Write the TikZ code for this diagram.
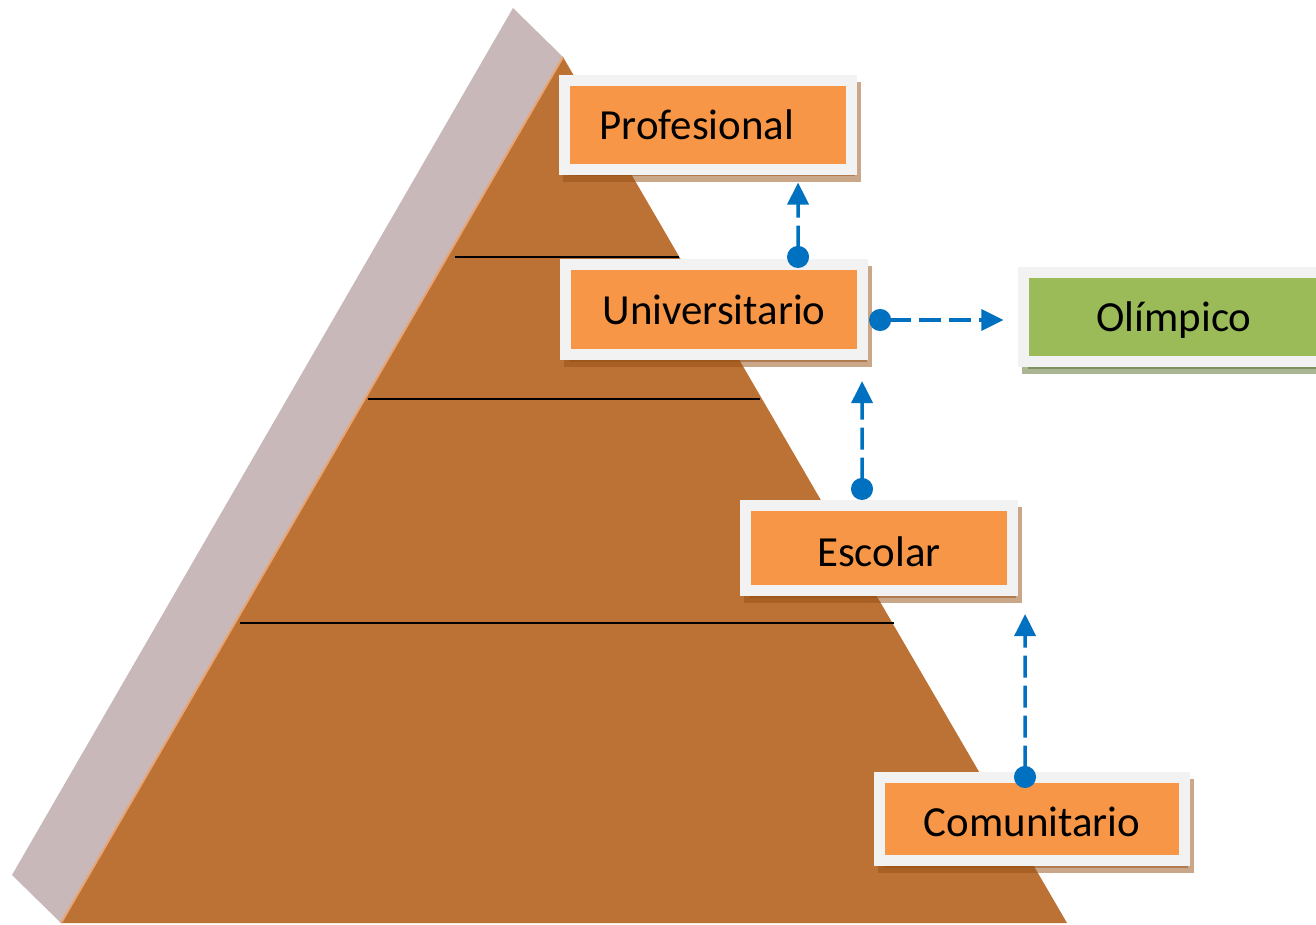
\documentclass[tikz,border=0pt]{standalone}
\usepackage{fontspec}
\setmainfont{Carlito}
\usetikzlibrary{arrows.meta,shadows}

\definecolor{frontbrown}{RGB}{188,114,53}
\definecolor{sidegrey}{RGB}{201,184,185}
\definecolor{edgeorange}{RGB}{232,165,115}
\definecolor{boxorange}{RGB}{247,150,70}
\definecolor{boxgreen}{RGB}{155,187,89}
\definecolor{framegrey}{RGB}{242,242,242}
\definecolor{linkblue}{RGB}{0,112,192}
\definecolor{shadeorange}{RGB}{150,80,20}
\definecolor{shadegreen}{RGB}{85,110,40}

\begin{document}
\begin{tikzpicture}[x=0.01cm,y=-0.01cm,
  tierbox/.style={draw=framegrey, line width=0.11cm, fill=boxorange,
    minimum height=0.88cm, inner sep=0pt,
    font=\fontsize{12.2}{14}\selectfont,
    drop shadow={shadow xshift=0.04cm, shadow yshift=-0.07cm,
      fill=#1, draw=#1, line width=0.11cm, opacity=0.5}},
  tierbox/.default=shadeorange,
  flowlink/.style={linkblue, line width=0.035cm, dash pattern=on 0.22cm off 0.08cm,
    {Circle[length=0.22cm]}-{Triangle[length=0.22cm,width=0.21cm]}}]
  \useasboundingbox (0,0) rectangle (1316,925);
  \clip (0,0) rectangle (1316,925);
  % Pyramid
  \fill[sidegrey] (12,875) -- (513,8) -- (563,57) -- (61,923) -- cycle;
  \fill[frontbrown] (563,57) -- (1067,923) -- (61,923) -- cycle;
  \draw[edgeorange, line width=0.02cm] (563,57) -- (61,923);
  % Level lines
  \draw[line width=0.02cm] (455,257) -- (679,257);
  \draw[line width=0.02cm] (368,399) -- (760,399);
  \draw[line width=0.02cm] (240,623) -- (894,623);
  % Levels
  \node[tierbox, minimum width=2.86cm] (prof) at (708,125) {Profesional\hspace*{0.22cm}};
  \node[tierbox, minimum width=2.97cm, minimum height=0.9cm] (uni) at (714,309.5) {Universitario};
  \node[tierbox=shadegreen, fill=boxgreen, minimum width=3cm, minimum height=0.89cm, text depth=0pt] (olim) at (1174,317) {Olímpico};
  \node[tierbox, minimum width=2.66cm, minimum height=0.85cm, text height=0.38cm] (esc) at (879,548) {Escolar};
  \node[tierbox, minimum width=3.04cm, minimum height=0.83cm, text height=0.36cm] (com) at (1032,819) {Comunitario};
  % Links
  \draw[flowlink, shorten <=-0.09cm, shorten >=0.08cm] ([xshift=0.84cm]uni.north) -- ([xshift=0.9cm]prof.south);
  \coordinate (uniR) at ([yshift=-0.105cm]uni.east);
  \draw[flowlink, shorten <=0.01cm, shorten >=0.15cm] (uniR) -- (uniR -| olim.west);
  \draw[flowlink, shorten >=0.21cm] ([xshift=-0.17cm]esc.north) -- ([xshift=1.48cm]uni.south);
  \draw[flowlink, shorten <=-0.16cm, shorten >=0.18cm] ([xshift=-0.07cm]com.north) -- ([xshift=1.46cm]esc.south);
\end{tikzpicture}
\end{document}
